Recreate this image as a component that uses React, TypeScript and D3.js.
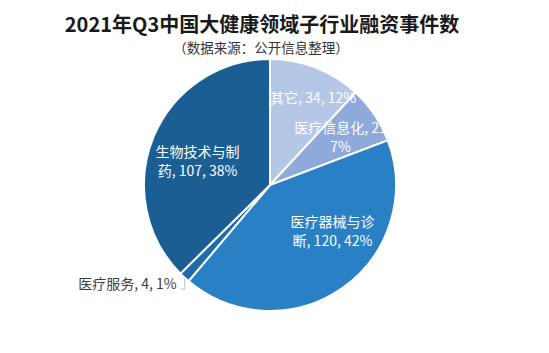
import React from "react";
import * as d3 from "d3";

const categories = ["其它", "医疗信息化", "医疗器械与诊断", "医疗服务", "生物技术与制药"];
const counts = [34, 21, 120, 4, 107];
const percents = ["12%", "7%", "42%", "1%", "38%"];
const labelLines = [
  ["其它, 34, 12%"],
  ["医疗信息化, 21", "7%"],
  ["医疗器械与诊", "断, 120, 42%"],
  ["医疗服务, 4, 1%"],
  ["生物技术与制", "药, 107, 38%"],
];
const colors = ["#b4c7e7", "#8eaadb", "#2a80c5", "#1f6bab", "#1b5e94"];
// label placement: angle tweak (deg) and radius (px), as Excel places them
const labelLayout = [
  { dAngle: 5, r: 97, fill: "#fff" },
  { dAngle: 0, r: 85, fill: "#fff" },
  { dAngle: -18, r: 78, fill: "#fff" },
  { dAngle: 0, r: 0, fill: "#404040" },
  { dAngle: -5, r: 76, fill: "#fff" },
];

const W = 549;
const H = 353;
const cx = 270;
const cy = 185;
const R = 126;
const font = "'Noto Sans CJK SC', 'Noto Sans', sans-serif";

export default function App() {
  const pie = d3
    .pie<number>()
    .sort(null)
    .value((d) => d);
  const arcs = pie(counts);
  const arc = d3.arc<d3.PieArcDatum<number>>().innerRadius(0).outerRadius(R);

  return (
    <svg
      width={W}
      height={H}
      style={{ position: "absolute", left: 0, top: 0, background: "#fff" }}
    >
      <text x={262} y={32} textAnchor="middle" fontFamily={font} fontWeight="bold" fontSize={20} fill="#1a1a1a">
        2021年Q3中国大健康领域子行业融资事件数
      </text>
      <text x={261} y={53} textAnchor="middle" fontFamily={font} fontSize={13.5} fill="#333">
        （数据来源：公开信息整理）
      </text>
      <g transform={`translate(${cx},${cy})`}>
        {arcs.map((a, i) => (
          <path key={categories[i]} d={arc(a) || ""} fill={colors[i]} stroke="#fff" strokeWidth={2} />
        ))}
        {arcs.map((a, i) => {
          const lay = labelLayout[i];
          const mid = (a.startAngle + a.endAngle) / 2;
          if (lay.r === 0) {
            // outside label with leader line
            const ex = Math.sin(mid) * (R - 2);
            const ey = -Math.cos(mid) * (R - 2);
            const ly = ey + 13;
            return (
              <g key={"l" + i}>
                <path
                  d={`M${ex - 1},${ey + 3}L${ex - 1},${ly}L${ex - 5},${ly}`}
                  fill="none"
                  stroke="#bfbfbf"
                  strokeWidth={1}
                />
                <text x={ex - 9} y={ly} textAnchor="end" fontFamily={font} fontSize={14} fill={lay.fill}>
                  {labelLines[i][0]}
                </text>
              </g>
            );
          }
          const ang = mid + (lay.dAngle * Math.PI) / 180;
          const x = Math.sin(ang) * lay.r;
          const y = -Math.cos(ang) * lay.r;
          const lines = labelLines[i];
          const lh = 19;
          const y0 = y - ((lines.length - 1) * lh) / 2;
          return (
            <text key={"l" + i} textAnchor="middle" fontFamily={font} fontSize={14} fill={lay.fill}>
              {lines.map((t, j) => (
                <tspan key={j} x={x} y={y0 + j * lh} dy="0.35em">
                  {t}
                </tspan>
              ))}
            </text>
          );
        })}
      </g>
    </svg>
  );
}
